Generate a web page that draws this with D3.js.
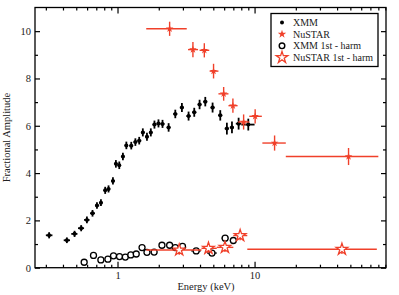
<!DOCTYPE html>
<html>
<head>
<meta charset="utf-8">
<script src="https://cdn.jsdelivr.net/npm/d3@7"></script>
<style>
  html, body { margin: 0; padding: 0; background: #fff; }
  svg { display: block; font-family: "Liberation Serif", "DejaVu Serif", serif; }
</style>
</head>
<body>
<svg id="chart" width="399" height="295"></svg>
<script>
// Fractional amplitude vs energy: XMM + NuSTAR, fundamental and 1st harmonic.

// -- data (energy keV, amplitude, errors) -----------------------------------
var xmmE   = [0.317, 0.427, 0.486, 0.543, 0.598, 0.657, 0.708, 0.757, 0.813, 0.860,
              0.926, 0.973, 1.03, 1.095, 1.16, 1.26, 1.35, 1.44, 1.53, 1.64,
              1.75, 1.86, 1.99, 2.13, 2.36, 2.64, 2.95, 3.30, 3.63, 3.97,
              4.37, 4.94, 5.62, 6.28, 6.84, 7.65, 9.0];
var xmmLo  = [0.30, 0.405, 0.46, 0.515, 0.57, 0.63, 0.685, 0.735, 0.79, 0.835,
              0.90, 0.95, 1.005, 1.065, 1.125, 1.22, 1.31, 1.395, 1.49, 1.59,
              1.70, 1.80, 1.93, 2.06, 2.28, 2.55, 2.85, 3.18, 3.50, 3.84,
              4.22, 4.77, 5.42, 6.06, 6.60, 7.30, 8.0];
var xmmHi  = [0.335, 0.45, 0.51, 0.57, 0.625, 0.685, 0.735, 0.78, 0.84, 0.885,
              0.955, 1.0, 1.06, 1.125, 1.19, 1.30, 1.39, 1.49, 1.58, 1.69,
              1.80, 1.92, 2.05, 2.20, 2.44, 2.73, 3.05, 3.42, 3.76, 4.10,
              4.52, 5.11, 5.81, 6.50, 7.08, 8.0, 10.0];
var xmmAmp = [1.37, 1.16, 1.43, 1.67, 2.02, 2.30, 2.63, 2.75, 3.27, 3.33,
              3.67, 4.39, 4.33, 4.70, 5.17, 5.16, 5.31, 5.37, 5.72, 5.54,
              5.72, 6.05, 6.10, 6.08, 5.93, 6.50, 6.77, 6.41, 6.57, 6.90,
              7.02, 6.77, 6.44, 5.88, 5.93, 6.09, 6.05];
var xmmErr = [0.13, 0.12, 0.13, 0.13, 0.14, 0.14, 0.14, 0.14, 0.15, 0.15,
              0.15, 0.16, 0.16, 0.16, 0.16, 0.16, 0.16, 0.16, 0.17, 0.17,
              0.17, 0.17, 0.17, 0.17, 0.18, 0.18, 0.19, 0.19, 0.19, 0.2,
              0.2, 0.21, 0.22, 0.25, 0.25, 0.25, 0.25];

var nuE   = [2.40, 3.55, 4.30, 5.02, 5.95, 6.95, 8.32, 10.1, 14.0, 48.5];
var nuLo  = [1.62, 3.27, 3.97, 4.70, 5.45, 6.45, 7.60, 9.15, 11.4, 16.9];
var nuHi  = [3.20, 3.87, 4.67, 5.45, 6.45, 7.52, 9.15, 11.3, 16.9, 80.0];
var nuAmp = [10.10, 9.22, 9.19, 8.31, 7.35, 6.85, 6.16, 6.40, 5.27, 4.70];
var nuErr = [0.30, 0.32, 0.30, 0.31, 0.29, 0.30, 0.32, 0.30, 0.32, 0.36];

var xhE   = [0.571, 0.668, 0.756, 0.851, 0.935, 1.034, 1.14, 1.25, 1.37, 1.51,
             1.64, 1.85, 2.11, 2.40, 2.64, 2.98, 3.75, 4.89, 6.10, 7.00];
var xhLo  = [0.545, 0.64, 0.725, 0.82, 0.90, 0.995, 1.10, 1.20, 1.32, 1.45,
             1.58, 1.77, 2.02, 2.30, 2.52, 2.84, 3.45, 4.50, 5.75, 6.60];
var xhHi  = [0.60, 0.70, 0.79, 0.885, 0.97, 1.075, 1.185, 1.30, 1.43, 1.57,
             1.71, 1.94, 2.21, 2.52, 2.78, 3.14, 4.05, 5.30, 6.45, 7.45];
var xhAmp = [0.23, 0.52, 0.33, 0.36, 0.50, 0.47, 0.45, 0.54, 0.58, 0.85,
             0.65, 0.66, 0.95, 0.95, 0.85, 0.90, 0.71, 0.62, 1.25, 1.15];
var xhErr = [0.07, 0.07, 0.07, 0.07, 0.07, 0.07, 0.07, 0.07, 0.07, 0.07,
             0.07, 0.07, 0.08, 0.08, 0.08, 0.08, 0.09, 0.1, 0.12, 0.12];

var nhE   = [2.82, 4.61, 6.08, 7.85, 43.4];
var nhLo  = [1.62, 4.10, 5.30, 7.00, 8.85];
var nhHi  = [4.10, 5.30, 7.00, 8.85, 78.0];
var nhAmp = [0.75, 0.82, 0.86, 1.36, 0.78];
var nhErr = [0.20, 0.20, 0.20, 0.20, 0.20];

var xMajor = [1, 10];
var xMinor = [0.3, 0.4, 0.5, 0.6, 0.7, 0.8, 0.9, 2, 3, 4, 5, 6, 7, 8, 9,
              20, 30, 40, 50, 60, 70, 80, 90];
var yMajor = [0, 2, 4, 6, 8, 10];
var yMinor = [1, 3, 5, 7, 9];

var legendLabels = ["XMM", "NuSTAR", "XMM 1st - harm", "NuSTAR 1st - harm"];

var RED = "#f0402a";

// -- layout ----------------------------------------------------------------
var L = 35, R = 386, T = 7.5, B = 267.7;
var svg = d3.select("#chart");
var x = d3.scaleLog().domain([0.25, 91]).range([L, R]);
var y = d3.scaleLinear().domain([0, 11]).range([B, T]);

function rows(E, lo, hi, a, e) {
  return E.map(function (v, i) {
    return { e: v, lo: lo[i], hi: hi[i], a: a[i], err: e[i] };
  });
}

// -- axes: inward ticks on all four sides ----------------------------------
function axis(gen, tx, ty, vals, size, fmt) {
  var g = svg.append("g").attr("transform", "translate(" + tx + "," + ty + ")")
    .call(gen.tickValues(vals).tickSize(size).tickPadding(4).tickFormat(fmt));
  g.select(".domain").remove();
  g.selectAll("line").attr("stroke", "#000").attr("stroke-width", 1.2);
  g.selectAll("text").attr("font-family", "Liberation Serif, serif")
    .attr("font-size", 10.5).attr("fill", "#222");
  return g;
}
var none = function () { return ""; };
axis(d3.axisBottom(x), 0, B, xMajor, -6, d3.format("d"));
axis(d3.axisBottom(x), 0, B, xMinor, -3, none);
axis(d3.axisTop(x), 0, T, xMajor, -6, none);
axis(d3.axisTop(x), 0, T, xMinor, -3, none);
axis(d3.axisLeft(y), L, 0, yMajor, -5, d3.format("d"));
axis(d3.axisLeft(y), L, 0, yMinor, -3, none);
axis(d3.axisRight(y), R, 0, yMajor, -5, none);
axis(d3.axisRight(y), R, 0, yMinor, -3, none);

svg.append("rect")
  .attr("x", L).attr("y", T).attr("width", R - L).attr("height", B - T)
  .attr("fill", "none").attr("stroke", "#000").attr("stroke-width", 1.3);

svg.append("text")
  .attr("x", 206).attr("y", 290).attr("text-anchor", "middle")
  .attr("font-size", 10.5).attr("fill", "#222").text("Energy (keV)");
svg.append("text")
  .attr("transform", "translate(10," + ((T + B) / 2) + ") rotate(-90)")
  .attr("text-anchor", "middle").attr("font-size", 10.5).attr("fill", "#222")
  .text("Fractional Amplitude");

// -- data marks --------------------------------------------------------------
function errorBars(data, colour, width) {
  var g = svg.append("g").attr("stroke", colour).attr("stroke-width", width);
  g.selectAll(".h").data(data).join("line")
    .attr("x1", function (d) { return x(d.lo); })
    .attr("x2", function (d) { return x(d.hi); })
    .attr("y1", function (d) { return y(d.a); })
    .attr("y2", function (d) { return y(d.a); });
  g.selectAll(".v").data(data).join("line")
    .attr("x1", function (d) { return x(d.e); })
    .attr("x2", function (d) { return x(d.e); })
    .attr("y1", function (d) { return y(d.a - d.err); })
    .attr("y2", function (d) { return y(d.a + d.err); });
  return g;
}

var xmm = rows(xmmE, xmmLo, xmmHi, xmmAmp, xmmErr);
var nu = rows(nuE, nuLo, nuHi, nuAmp, nuErr);
var xh = rows(xhE, xhLo, xhHi, xhAmp, xhErr);
var nh = rows(nhE, nhLo, nhHi, nhAmp, nhErr);

errorBars(xmm, "#000", 1.8);
svg.append("g").selectAll("circle").data(xmm).join("circle")
  .attr("cx", function (d) { return x(d.e); })
  .attr("cy", function (d) { return y(d.a); })
  .attr("r", 2).attr("fill", "#000");

errorBars(nu, RED, 1.4);
var smallStar = d3.symbol().type(d3.symbolStar).size(18);
svg.append("g").selectAll("path").data(nu).join("path")
  .attr("d", smallStar)
  .attr("transform", function (d) { return "translate(" + x(d.e) + "," + y(d.a) + ")"; })
  .attr("fill", RED);

errorBars(xh, "#000", 1.3);
svg.append("g").selectAll("circle").data(xh).join("circle")
  .attr("cx", function (d) { return x(d.e); })
  .attr("cy", function (d) { return y(d.a); })
  .attr("r", 3).attr("fill", "#fff").attr("stroke", "#000").attr("stroke-width", 1.3);

errorBars(nh, RED, 1.4);
var bigStar = d3.symbol().type(d3.symbolStar).size(42);
svg.append("g").selectAll("path").data(nh).join("path")
  .attr("d", bigStar)
  .attr("transform", function (d) { return "translate(" + x(d.e) + "," + y(d.a) + ")"; })
  .attr("fill", "#fff").attr("stroke", RED).attr("stroke-width", 1.3);

// -- legend -------------------------------------------------------------------
var leg = svg.append("g");
leg.append("rect")
  .attr("x", 271).attr("y", 13.5).attr("width", 107).attr("height", 53)
  .attr("fill", "#fff").attr("stroke", "#000").attr("stroke-width", 1.3);
var legY = d3.scalePoint().domain(legendLabels).range([22.5, 57.5]);
legendLabels.forEach(function (lab, i) {
  var cy = legY(lab), cx = 282;
  if (i === 0) leg.append("circle").attr("cx", cx).attr("cy", cy).attr("r", 2).attr("fill", "#000");
  if (i === 1) leg.append("path").attr("d", d3.symbol().type(d3.symbolStar).size(22))
    .attr("transform", "translate(" + cx + "," + cy + ")").attr("fill", RED);
  if (i === 2) leg.append("circle").attr("cx", cx).attr("cy", cy).attr("r", 2.8)
    .attr("fill", "none").attr("stroke", "#000").attr("stroke-width", 1.4);
  if (i === 3) leg.append("path").attr("d", d3.symbol().type(d3.symbolStar).size(42))
    .attr("transform", "translate(" + cx + "," + cy + ")")
    .attr("fill", "#fff").attr("stroke", RED).attr("stroke-width", 1.3);
  leg.append("text").attr("x", 293).attr("y", cy + 3.5)
    .attr("font-size", 10).attr("fill", "#222").text(lab);
});
</script>
</body>
</html>
